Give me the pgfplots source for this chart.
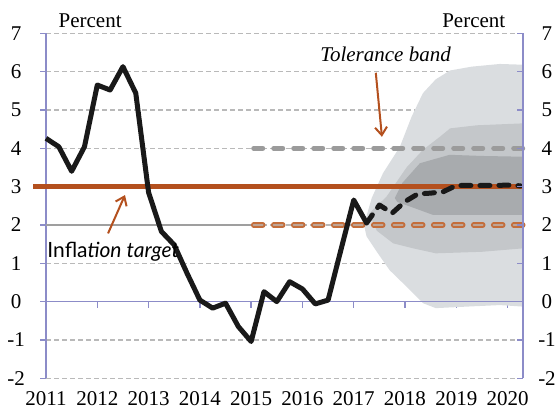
\documentclass[border=0pt]{standalone}
\usepackage{fontspec}
\setmainfont{Liberation Serif}
\newfontfamily\latofont{Lato}
\usepackage{pgfplots}
\pgfplotsset{compat=1.18}
\usetikzlibrary{arrows.meta}
\definecolor{axblue}{RGB}{140,140,200}
\definecolor{target}{RGB}{180,80,30}
\definecolor{fanA}{RGB}{218,221,224}
\definecolor{fanB}{RGB}{196,199,202}
\definecolor{fanC}{RGB}{168,171,174}
\definecolor{tolgray}{RGB}{155,155,155}
\definecolor{tolorange}{RGB}{195,110,60}
\definecolor{tolin}{RGB}{190,165,150}
\definecolor{gridgray}{RGB}{185,185,185}
\begin{document}
\begin{tikzpicture}
\useasboundingbox (-23pt,-15.85pt) rectangle (257pt,189.15pt);
\begin{axis}[
  at={(0,0)}, anchor=south west,
  scale only axis, width=238.5pt, height=172.5pt,
  xmin=2011, xmax=2020.3, ymin=-2, ymax=7,
  clip=false,
  axis x line*=middle, axis y line*=left,
  hide obscured x ticks=false,
  xtick={2011,...,2020}, ytick={-2,...,7},
  xtick align=outside, ytick align=outside,
  major tick length=3pt,
  axis line style={axblue, line width=0.75pt},
  tick style={axblue, line width=0.75pt},
  tick label style={font=\fontsize{10.5}{12}\selectfont, /pgf/number format/assume math mode=true, /pgf/number format/1000 sep={}},
  x tick label style={anchor=center, yshift=-45.5pt},
  y tick label style={anchor=center, xshift=-12pt},
  ymajorgrids,
  grid style={gridgray, dash pattern=on 2.5pt off 1.5pt, line width=0.6pt},
]
% fan chart
\addplot[fill=fanA, draw=none] coordinates {
 (2017.2,2.0) (2017.35,2.7) (2017.57,3.35) (2017.9,4.04) (2018.13,4.83) (2018.35,5.44) (2018.6,5.8) (2018.88,6.03) (2019.3,6.13) (2019.85,6.2) (2020.3,6.18)
 (2020.3,-0.13) (2019.85,-0.09) (2019.2,-0.13) (2018.6,-0.17) (2018.35,-0.04) (2018.03,0.39) (2017.7,0.82) (2017.45,1.3) (2017.25,1.7)} -- cycle;
\addplot[fill=fanB, draw=none] coordinates {
 (2017.3,2.3) (2017.64,2.74) (2018.03,3.5) (2018.35,3.96) (2018.68,4.3) (2018.88,4.52) (2019.4,4.6) (2020.3,4.65)
 (2020.3,1.39) (2019.5,1.3) (2018.6,1.26) (2018.16,1.39) (2017.77,1.52) (2017.45,1.85)} -- cycle;
\addplot[fill=fanC, draw=none] coordinates {
 (2017.8,2.7) (2017.95,3.1) (2018.29,3.61) (2018.87,3.83) (2019.5,3.8) (2020.3,3.78)
 (2020.3,2.26) (2019.2,2.26) (2018.55,2.26) (2018.1,2.48) (2017.85,2.6)} -- cycle;
% zero line over fan
\addplot[axblue, line width=0.75pt] coordinates {(2011,0) (2020.3,0)};
% solid gray at 2
\addplot[gray!75, line width=0.75pt] coordinates {(2011,2) (2015,2)};
% tolerance band
\addplot[tolgray, line width=2.5pt, line cap=round, dash pattern=on 4.5pt off 5.5pt] coordinates {(2015.05,4) (2020.3,4)};
\addplot[tolorange, line width=2.8pt, line cap=round, dash pattern=on 4.5pt off 5.5pt] coordinates {(2015.05,2) (2020.3,2)};
\addplot[tolin, line width=1.0pt, line cap=round, dash pattern=on 4.5pt off 5.5pt] coordinates {(2015.05,2) (2020.3,2)};
% inflation target
\addplot[target, line width=2.5pt] coordinates {(2010.75,3) (2020.3,3)};
% actual inflation
\addplot[black!90, line width=2.5pt, line join=round] coordinates {
 (2011.00,4.26) (2011.25,4.04) (2011.50,3.40) (2011.75,4.04)
 (2012.00,5.65) (2012.25,5.52) (2012.50,6.13) (2012.75,5.44)
 (2013.00,2.85) (2013.25,1.83) (2013.50,1.48) (2013.75,0.74)
 (2014.00,0.04) (2014.25,-0.17) (2014.50,-0.04) (2014.75,-0.65)
 (2015.00,-1.04) (2015.25,0.26) (2015.50,0.00) (2015.75,0.52)
 (2016.00,0.33) (2016.25,-0.06) (2016.50,0.04) (2016.75,1.35)
 (2017.00,2.65) (2017.25,2.05)};
% forecast
\addplot[black!90, line width=2.5pt, line join=round, line cap=round, dash pattern=on 5pt off 4.5pt] coordinates {
 (2017.25,2.05) (2017.50,2.52) (2017.75,2.31) (2018.00,2.61) (2018.25,2.81)
 (2018.50,2.83) (2018.75,2.87) (2019.00,3.03) (2019.25,3.03) (2019.50,3.03)
 (2019.75,3.03) (2020.00,3.04) (2020.25,3.02)};
% annotations
\node[font=\fontsize{10.5}{12}\selectfont] at (axis cs:2011.86,7.32) {Percent};
\node[font=\fontsize{10.5}{12}\selectfont] at (axis cs:2019.34,7.32) {Percent};
\node[font=\fontsize{10.5}{12}\selectfont\itshape] at (axis cs:2017.62,6.44) {Tolerance band};
\node[font=\fontsize{10.5}{12}\selectfont\latofont] at (axis cs:2012.31,1.30) {Infla\textit{tion target}};
\draw[target, line width=1pt, -{Straight Barb[length=4pt,width=6pt]}] (axis cs:2017.43,5.97) -- (axis cs:2017.55,4.30);
\draw[target, line width=1pt, -{Straight Barb[length=4pt,width=6pt]}] (axis cs:2012.21,1.78) -- (axis cs:2012.54,2.78);
\end{axis}
\begin{axis}[
  at={(0,0)}, anchor=south west,
  scale only axis, width=238.5pt, height=172.5pt,
  xmin=2011, xmax=2020.3, ymin=-2, ymax=7,
  axis x line=none, axis y line*=right,
  ytick={-2,...,7}, ytick align=inside,
  major tick length=3pt,
  axis line style={axblue, line width=0.75pt},
  tick style={axblue, line width=0.75pt},
  tick label style={font=\fontsize{10.5}{12}\selectfont, /pgf/number format/assume math mode=true},
  y tick label style={anchor=center, xshift=12pt},
]
\end{axis}
\end{tikzpicture}
\end{document}
